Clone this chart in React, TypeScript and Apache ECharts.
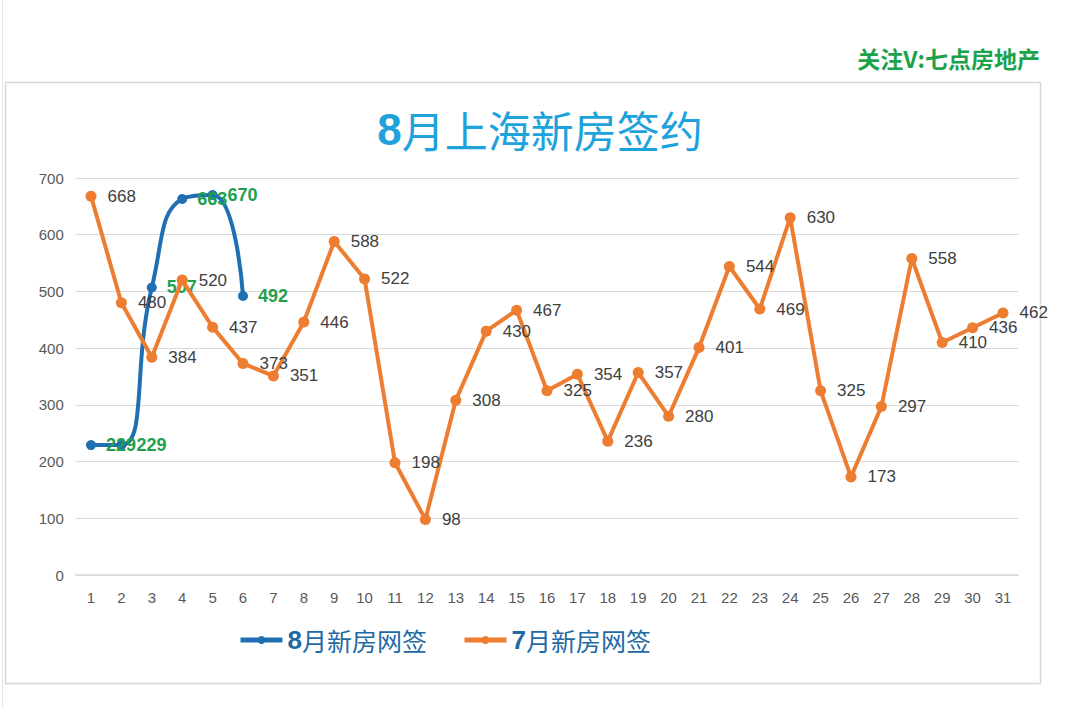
import React, { useEffect, useRef } from "react";
import * as echarts from "echarts";

const days = Array.from({ length: 31 }, (_, i) => String(i + 1));
const augName = "8月新房网签";
const julName = "7月新房网签";
const augValues = [229, 229, 507, 663, 670, 492];
const julValues = [
  668, 480, 384, 520, 437, 373, 351, 446, 588, 522, 198, 98, 308, 430, 467, 325,
  354, 236, 357, 280, 401, 544, 469, 630, 325, 173, 297, 558, 410, 436, 462,
];
const titleNum = "8";
const titleRest = "月上海新房签约";
const watermark = "关注V:七点房地产";

export default function App() {
  const ref = useRef<HTMLDivElement>(null);
  useEffect(() => {
    if (!ref.current) return;
    const chart = echarts.init(ref.current, null, { renderer: "svg" });
    const cjk = '"Noto Sans CJK SC", "Noto Sans", sans-serif';
    const num = '"Liberation Sans Narrow", "Liberation Sans", Arial, sans-serif';
    const legendFormatter = (name: string) =>
      `{n|${name.slice(0, 1)}}{t|${name.slice(1)}}`;
    chart.setOption({
      animation: false,
      backgroundColor: "#ffffff",
      graphic: [
        {
          type: "line",
          shape: { x1: 2.5, y1: 0, x2: 2.5, y2: 707 },
          style: { stroke: "#e3e3e3", lineWidth: 1 },
          z: -10,
        },
        {
          type: "rect",
          shape: { x: 5.5, y: 82.5, width: 1035, height: 601 },
          style: { fill: "#ffffff", stroke: "#d6d6d6", lineWidth: 1.5 },
          z: -9,
        },
        {
          type: "text",
          right: 40,
          top: 46,
          style: {
            text: watermark,
            fill: "#1ca24b",
            font: `bold 23px ${cjk}`,
          },
        },
      ],
      title: {
        text: `{n|${titleNum}}{t|${titleRest}}`,
        left: "center",
        top: 102,
        textStyle: {
          rich: {
            n: {
              fontFamily: '"Liberation Sans", Arial, sans-serif',
              fontSize: 44,
              fontWeight: "bold",
              color: "#1ea2dc",
            },
            t: {
              fontFamily: cjk,
              fontSize: 43,
              fontWeight: "normal",
              color: "#1ea2dc",
            },
          },
        },
      },
      legend: {
        left: 233,
        top: 622,
        itemWidth: 42,
        itemHeight: 10,
        itemGap: 35,
        data: [augName, julName],
        lineStyle: { width: 5 },
        formatter: legendFormatter,
        textStyle: {
          rich: {
            n: {
              fontFamily: '"Liberation Sans", Arial, sans-serif',
              fontSize: 26,
              fontWeight: "bold",
              color: "#1f6aa5",
            },
            t: {
              fontFamily: cjk,
              fontSize: 25,
              color: "#1f6aa5",
            },
          },
        },
      },
      grid: { left: 75.8, right: 61.8, top: 178, bottom: 132 },
      xAxis: {
        type: "category",
        data: days,
        boundaryGap: true,
        axisLine: { show: true, lineStyle: { color: "#d9d9d9", width: 1.5 } },
        axisTick: { show: false },
        axisLabel: { color: "#595959", fontSize: 15, fontFamily: num, margin: 15 },
      },
      yAxis: {
        type: "value",
        min: 0,
        max: 700,
        interval: 100,
        axisLine: { show: false },
        axisTick: { show: false },
        splitLine: { lineStyle: { color: "#d9d9d9", width: 1 } },
        axisLabel: { color: "#595959", fontSize: 15, fontFamily: num, margin: 12 },
      },
      series: [
        {
          name: augName,
          type: "line",
          data: augValues,
          smooth: 0.5,
          symbol: "circle",
          symbolSize: 10,
          itemStyle: { color: "#1f6fb2" },
          lineStyle: { color: "#1f6fb2", width: 4 },
          label: {
            show: true,
            position: "right",
            distance: 10,
            color: "#1fa04d",
            fontSize: 18,
            fontWeight: "bold",
            fontFamily: '"Liberation Sans", Arial, sans-serif',
          },
          z: 2,
        },
        {
          name: julName,
          type: "line",
          data: julValues,
          symbol: "circle",
          symbolSize: 11,
          itemStyle: { color: "#ed7d31" },
          lineStyle: { color: "#ed7d31", width: 4 },
          label: {
            show: true,
            position: "right",
            distance: 11,
            color: "#404040",
            fontSize: 17,
            fontFamily: '"Liberation Sans", Arial, sans-serif',
          },
          z: 3,
        },
      ],
    });
    return () => chart.dispose();
  }, []);
  return (
    <div
      ref={ref}
      style={{ position: "fixed", left: 0, top: 0, width: 1080, height: 707 }}
    />
  );
}
